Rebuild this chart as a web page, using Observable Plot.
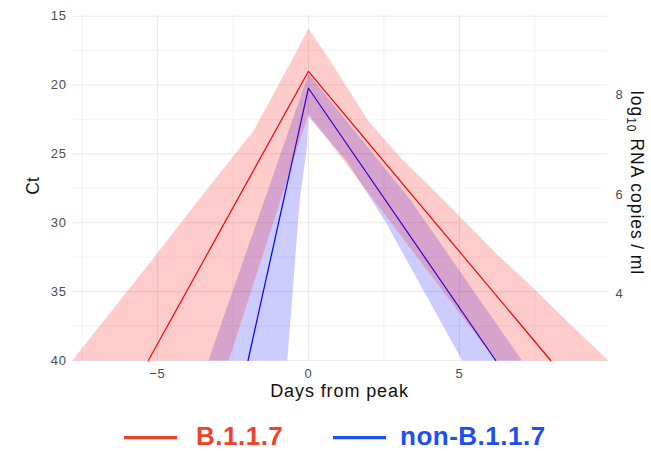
<!DOCTYPE html>
<html>
<head>
<meta charset="utf-8">
<script src="https://cdn.jsdelivr.net/npm/d3@7"></script>
<script src="https://cdn.jsdelivr.net/npm/@observablehq/plot@0.6"></script>
<style>
  body { margin: 0; background: #fff; }
  #chart { width: 651px; height: 451px; position: relative; overflow: hidden; background: #fff; }
  #chart svg { display: block; }
</style>
</head>
<body>
<div id="chart"></div>
<script>
// ---- tick values ----
const xTicks = [-5, 0, 5];
const xMinor = [-7.5, -2.5, 2.5, 7.5];
const yTicks = [15, 20, 25, 30, 35, 40];
const yMinor = [17.5, 22.5, 27.5, 32.5, 37.5];
const rnaTicks = [8, 6, 4];

// Ct <-> log10 RNA copies/ml conversion constants
const ctIntercept = 40.93733;
const ctSlope = 3.60971;
const rnaOffset = Math.log10(250);

// ---- central trajectories ----
const b117Days = [-5.3, 0, 8.02];
const b117Ct = [40, 19.0, 40];
const nonDays = [-2.0, 0, 6.2];
const nonCt = [40, 20.23, 40];

// ---- uncertainty bands (outline: outer edge, then inner edge back) ----
const b117BandDays = [-7.82, -5.0, -3.69, -1.81, -0.6, 0, 0.71, 1.98, 3.02, 4.5, 6.25, 7.52, 8.68, 9.93, 6.2, 0, -2.64];
const b117BandCt   = [40, 32.2, 28.5, 23.3, 18.4, 15.9, 18.2, 22.6, 25.2, 28.4, 32.3, 34.9, 37.4, 40, 40, 22.1, 40];
const nonBandDays = [-3.31, 0, 3.4, 5.45, 7.07, 5.09, 2.53, 1.26, 0, -0.05, -0.29, -0.7];
const nonBandCt   = [40, 19.2, 28.4, 34.9, 40, 40, 29.85, 25.5, 22.3, 24.5, 28.4, 40];

const zip = (xs, ys) => xs.map((x, i) => ({day: x, ct: ys[i]}));
const b117Line = zip(b117Days, b117Ct);
const nonLine = zip(nonDays, nonCt);
const b117Band = zip(b117BandDays, b117BandCt);
const nonBand = zip(nonBandDays, nonBandCt);

const rnaToCt = r => ctIntercept - ctSlope * (r - rnaOffset);

const font = "Liberation Sans, Arial, Helvetica, sans-serif";
const tickColor = "#4d4d4d";
const gridColor = "#ebebeb";

const plot = Plot.plot({
  width: 651,
  height: 401,
  marginLeft: 72,
  marginRight: 44,
  marginTop: 15.7,
  marginBottom: 41,
  x: {domain: [-7.81, 9.9]},
  y: {domain: [15, 40], reverse: true},
  style: {fontFamily: font, background: "white", overflow: "visible"},
  marks: [
    Plot.gridX(xMinor, {stroke: gridColor, strokeOpacity: 1, strokeWidth: 0.6}),
    Plot.gridX(xTicks, {stroke: gridColor, strokeOpacity: 1, strokeWidth: 1.1}),
    Plot.gridY(yMinor, {stroke: gridColor, strokeOpacity: 1, strokeWidth: 0.6}),
    Plot.gridY(yTicks, {stroke: gridColor, strokeOpacity: 1, strokeWidth: 1.1}),
    Plot.line(nonBand, {x: "day", y: "ct", fill: "blue", fillOpacity: 0.2, stroke: "none"}),
    Plot.line(nonLine, {x: "day", y: "ct", stroke: "blue", strokeWidth: 1.2}),
    Plot.line(b117Band, {x: "day", y: "ct", fill: "red", fillOpacity: 0.2, stroke: "none"}),
    Plot.line(b117Line, {x: "day", y: "ct", stroke: "red", strokeWidth: 1.2}),
    Plot.axisY(yTicks, {tickSize: 0, tickPadding: 6, fontSize: 13, color: tickColor, label: null}),
    Plot.axisX(xTicks, {tickSize: 0, tickPadding: 8, fontSize: 13, color: tickColor, label: null}),
    Plot.text(rnaTicks, {y: d => rnaToCt(d), frameAnchor: "right", dx: 8, textAnchor: "start",
      text: d => String(d), fontSize: 13, fill: tickColor})
  ]
});

const svg = d3.select(plot);
svg.selectAll("text").style("letter-spacing", "0.6px");

// axis titles
svg.append("text")
  .attr("x", 339.5).attr("y", 396.6)
  .attr("text-anchor", "middle")
  .style("font-family", font).style("font-size", "18px").style("letter-spacing", "0.9px")
  .attr("fill", "#111")
  .text("Days from peak");

svg.append("text")
  .attr("transform", "translate(39.3,186) rotate(-90)")
  .attr("text-anchor", "middle")
  .style("font-family", font).style("font-size", "17.5px")
  .attr("fill", "#111")
  .text("Ct");

const rt = svg.append("text")
  .attr("transform", "translate(631,183) rotate(90)")
  .attr("text-anchor", "middle")
  .style("font-family", font).style("font-size", "17.5px").style("letter-spacing", "1px")
  .attr("fill", "#111");
rt.append("tspan").text("log");
rt.append("tspan").attr("dy", 4).style("font-size", "12px").text("10");
rt.append("tspan").attr("dy", -4).text(" RNA copies\u2009/\u2009ml");

document.getElementById("chart").appendChild(plot);

// legend below the plot
const legendNames = ["B.1.1.7", "non-B.1.1.7"];
const legendColors = ["#eb432c", "#1b4ff2"];
const legendLineX = [124, 333];
const legendTextX = [196, 400];
const lg = d3.select("#chart").append("svg")
  .attr("width", 651).attr("height", 50)
  .style("display", "block");
legendNames.forEach((name, i) => {
  lg.append("line")
    .attr("x1", legendLineX[i]).attr("x2", legendLineX[i] + 53)
    .attr("y1", 36.6).attr("y2", 36.6)
    .attr("stroke", legendColors[i]).attr("stroke-width", 3.3);
  lg.append("text")
    .attr("x", legendTextX[i]).attr("y", 44.3)
    .style("font-family", font).style("font-size", "26px").style("font-weight", "bold")
    .style("letter-spacing", "0.5px")
    .attr("fill", legendColors[i])
    .text(name);
});
</script>
</body>
</html>
